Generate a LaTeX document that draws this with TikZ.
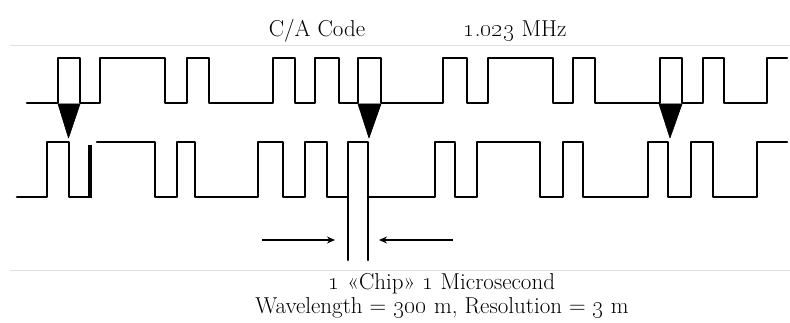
\documentclass[tikz,border=0pt]{standalone}
\usetikzlibrary{arrows.meta}
\begin{document}
\begin{tikzpicture}[x=1pt,y=-1pt,
  wave/.style={line width=2.6pt,line join=round,line cap=round},
  rulegrey/.style={line width=1pt,draw=black!12},
  marker/.style={fill=black,draw=black,line width=0.6pt,line join=round},
  txt/.style={inner sep=0pt,anchor=base,font=\fontsize{23}{27}\selectfont},
  span/.style={line width=2pt,-{Stealth[length=8pt,width=7pt]}}]
\useasboundingbox (0,0) rectangle (790,323);
% separator rules
\coordinate (r1a) at (10,46); \coordinate (r1b) at (790,46);
\coordinate (r2a) at (10,271); \coordinate (r2b) at (790,271);
\draw[rulegrey] (r1a) -- (r1b);
\draw[rulegrey] (r2a) -- (r2b);
% titles
\node[txt] (ca) at (317,37) {C/A Code};
\node[txt] (mhz) at (515,37) {\oldstylenums{1}.\oldstylenums{023} MHz};
% top waveform
\draw[wave] (27,103) -- (58,103) -- (58,58) -- (80,58) -- (80,103) -- (100,103) -- (100,58) -- (165,58) -- (165,103) -- (187,103) -- (187,58) -- (209,58) -- (209,103) -- (273,103) -- (273,58) -- (295,58) -- (295,103) -- (315,103) -- (315,58) -- (339,58) -- (339,103) -- (358,103) -- (358,58) -- (381,58) -- (381,103) -- (443,103) -- (443,58) -- (467,58) -- (467,103) -- (488,103) -- (488,58) -- (553,58) -- (553,103) -- (573,103) -- (573,58) -- (595,58) -- (595,103) -- (660,103) -- (660,58) -- (682,58) -- (682,103) -- (703,103) -- (703,58) -- (724,58) -- (724,103) -- (767,103) -- (767,58) -- (787,58);
% bottom waveform
\draw[wave] (17,197) -- (47,197) -- (47,142) -- (69,142) -- (69,197) -- (90,197);
\draw[line width=4.2pt] (90,198) -- (90,145);
\draw[wave] (97,142) -- (155,142) -- (155,197) -- (177,197) -- (177,142) -- (195,142) -- (195,197) -- (258,197) -- (258,142) -- (283,142) -- (283,197) -- (305,197) -- (305,142) -- (327,142) -- (327,197) -- (348,197);
\draw[wave] (348,260) -- (348,142) -- (368,142) -- (368,260);
\draw[wave] (368,197) -- (435,197) -- (435,142) -- (455,142) -- (455,197) -- (477,197) -- (477,142) -- (540,142) -- (540,197) -- (563,197) -- (563,142) -- (583,142) -- (583,197) -- (648,197) -- (648,142) -- (668,142) -- (668,197) -- (691,197) -- (691,142) -- (713,142) -- (713,197) -- (757,197) -- (757,142) -- (787,142);
% markers
\fill[marker] (58,104) -- (80,104) -- (68.5,138) -- cycle;
\fill[marker] (358,104) -- (381,104) -- (369,138) -- cycle;
\fill[marker] (659,104) -- (682,104) -- (670,138) -- cycle;
% chip arrows
\coordinate (la) at (262,240); \coordinate (lb) at (335,240);
\coordinate (ra) at (453,240); \coordinate (rb) at (379,240);
\draw[span] (la) -- (lb);
\draw[span] (ra) -- (rb);
% bottom text
\node[txt] (chip) at (442,290) {\oldstylenums{1} «Chip» \oldstylenums{1} Microsecond};
\node[txt] (wave) at (442,313) {Wavelength = \oldstylenums{300} m, Resolution = \oldstylenums{3} m};
\end{tikzpicture}
\end{document}
